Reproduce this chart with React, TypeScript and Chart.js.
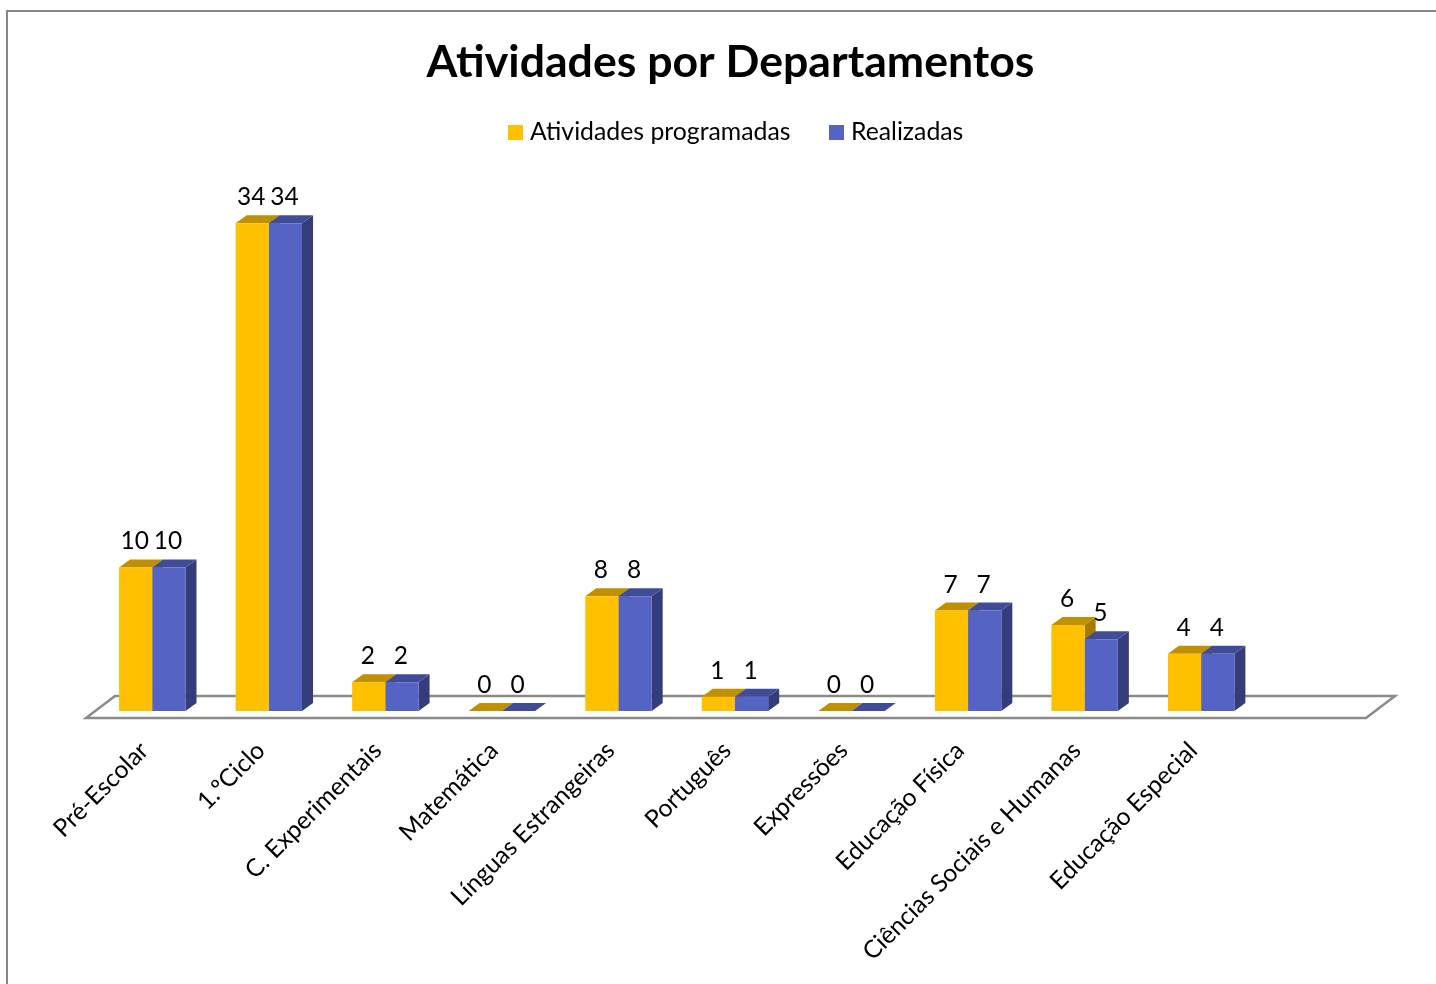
import React, { useEffect, useRef } from "react";
import { Chart, registerables } from "chart.js";

Chart.register(...registerables);

const chartTitle = "Atividades por Departamentos";
const categories = [
  "Pré-Escolar",
  "1.ºCiclo",
  "C. Experimentais",
  "Matemática",
  "Línguas Estrangeiras",
  "Português",
  "Expressões",
  "Educação Física",
  "Ciências Sociais e Humanas",
  "Educação Especial",
  "",
];
const programadas = [10, 34, 2, 0, 8, 1, 0, 7, 6, 4, null];
const realizadas = [10, 34, 2, 0, 8, 1, 0, 7, 5, 4, null];

const FONT = "Lato, 'Open Sans', sans-serif";
const YELLOW = "#FFC000";
const BLUE = "#5564C4";
const faces = [
  { top: "#BF9000", side: "#A67C00" },
  { top: "#404C98", side: "#343C7A" },
];
const DX = 11;
const DY = 8;

const scenePlugin = {
  id: "scene3d",
  afterLayout(chart: any) {
    chart.legend.left += 3;
    chart.legend.right += 3;
  },
  beforeDraw(chart: any) {
    const { ctx, width, height } = chart;
    ctx.save();
    ctx.fillStyle = "#ffffff";
    ctx.fillRect(0, 0, width, height);
    ctx.strokeStyle = "#868686";
    ctx.lineWidth = 2;
    ctx.beginPath();
    ctx.moveTo(7, height);
    ctx.lineTo(7, 11);
    ctx.lineTo(width, 11);
    ctx.stroke();
    ctx.restore();
  },
  beforeDatasetsDraw(chart: any) {
    const { ctx, chartArea } = chart;
    const base = chart.scales.y.getPixelForValue(0);
    ctx.save();
    ctx.strokeStyle = "#8a8a8a";
    ctx.lineWidth = 2.5;
    ctx.fillStyle = "#ffffff";
    ctx.beginPath();
    ctx.moveTo(chartArea.left - 8, base + 7);
    ctx.lineTo(chartArea.right - 10, base + 7);
    ctx.lineTo(chartArea.right + 19, base - 15);
    ctx.lineTo(chartArea.left + 21, base - 15);
    ctx.closePath();
    ctx.fill();
    ctx.stroke();
    chart.data.datasets.forEach((_: any, di: number) => {
      chart.getDatasetMeta(di).data.forEach((bar: any, i: number) => {
        if (chart.data.datasets[di].data[i] == null) return;
        const l = bar.x - bar.width / 2;
        const r = bar.x + bar.width / 2;
        const t = bar.y;
        const b = bar.base;
        ctx.fillStyle = faces[di].side;
        ctx.beginPath();
        ctx.moveTo(r, t);
        ctx.lineTo(r + DX, t - DY);
        ctx.lineTo(r + DX, b - DY);
        ctx.lineTo(r, b);
        ctx.closePath();
        ctx.fill();
        ctx.fillStyle = faces[di].top;
        ctx.beginPath();
        ctx.moveTo(l, t);
        ctx.lineTo(l + DX, t - DY);
        ctx.lineTo(r + DX, t - DY);
        ctx.lineTo(r, t);
        ctx.closePath();
        ctx.fill();
      });
    });
    ctx.restore();
  },
  afterDatasetsDraw(chart: any) {
    const { ctx } = chart;
    ctx.save();
    ctx.fillStyle = "#000000";
    ctx.font = `24.5px ${FONT}`;
    ctx.textAlign = "center";
    ctx.textBaseline = "middle";
    chart.data.datasets.forEach((ds: any, di: number) => {
      chart.getDatasetMeta(di).data.forEach((bar: any, i: number) => {
        const v = ds.data[i];
        if (v == null) return;
        ctx.fillText(String(v), bar.x - 1, bar.y - 26);
      });
    });
    ctx.restore();
  },
};

function swatch(color: string) {
  const c = document.createElement("canvas");
  c.width = 15;
  c.height = 15;
  const g = c.getContext("2d")!;
  g.fillStyle = color;
  g.fillRect(0, 0, 15, 15);
  return c;
}

export default function App() {
  const ref = useRef<HTMLCanvasElement>(null);
  useEffect(() => {
    const chart = new Chart(ref.current!, {
      type: "bar",
      data: {
        labels: categories,
        datasets: [
          {
            label: "Atividades programadas",
            data: programadas,
            backgroundColor: YELLOW,
            categoryPercentage: 0.57,
            barPercentage: 1,
            borderWidth: 0,
          },
          {
            label: "Realizadas",
            data: realizadas,
            backgroundColor: BLUE,
            categoryPercentage: 0.57,
            barPercentage: 1,
            borderWidth: 0,
          },
        ],
      } as any,
      options: {
        responsive: false,
        animation: false,
        devicePixelRatio: 1,
        layout: { padding: { left: 85, right: 60, top: 0, bottom: 0 } },
        scales: {
          x: {
            grid: { display: false },
            border: { display: false },
            ticks: {
              autoSkip: false,
              minRotation: 45,
              maxRotation: 45,
              padding: 17,
              labelOffset: -8,
              color: "#000000",
              font: { family: FONT, size: 24.6 },
            },
            afterFit: (s: any) => {
              s.height = 273;
            },
          },
          y: {
            min: 0,
            max: 38.8,
            grid: { display: false },
            border: { display: false },
            ticks: { display: false },
            afterFit: (s: any) => {
              s.width = 9;
            },
          },
        },
        plugins: {
          title: {
            display: true,
            text: chartTitle,
            color: "#000000",
            font: { family: FONT, size: 44.6, weight: "bold", lineHeight: 0.6 },
            padding: { top: 49.2, bottom: 0.75 },
          },
          legend: {
            display: true,
            position: "top",
            fullSize: false,
            labels: {
              color: "#000000",
              font: { family: FONT, size: 24.8 },
              usePointStyle: true,
              boxWidth: 5,
              boxHeight: 15,
              padding: 43,
              generateLabels: (c: any) =>
                c.data.datasets.map((ds: any, i: number) => ({
                  text: ds.label,
                  fillStyle: ds.backgroundColor,
                  strokeStyle: ds.backgroundColor,
                  lineWidth: 0,
                  pointStyle: swatch(ds.backgroundColor),
                  datasetIndex: i,
                  hidden: false,
                })),
            },
          },
          tooltip: { enabled: false },
        },
      } as any,
      plugins: [scenePlugin],
    });
    return () => chart.destroy();
  }, []);
  return (
    <div style={{ position: "fixed", left: 0, top: 0, width: 1436, height: 984 }}>
      <canvas ref={ref} width={1436} height={984} style={{ display: "block" }} />
    </div>
  );
}
